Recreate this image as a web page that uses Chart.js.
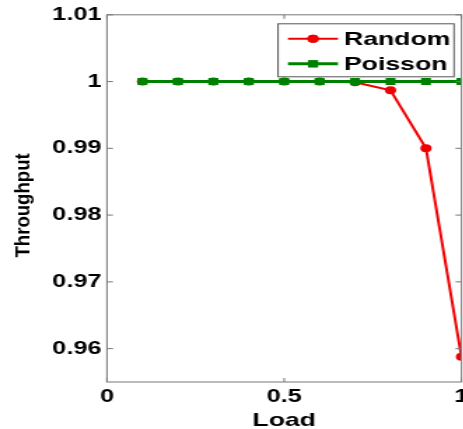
<!DOCTYPE html>
<html>
<head>
<meta charset="utf-8">
<title>Throughput vs Load</title>
<script src="https://cdn.jsdelivr.net/npm/chart.js@4.4.0/dist/chart.umd.min.js"></script>
<style>
  html, body { margin: 0; padding: 0; background: #fff; overflow: hidden; }
  #frame { width: 463px; height: 429px; overflow: hidden; }
  /* figure is drawn narrow, then widened like the exported original */
  #stretch { width: 346px; height: 429px; transform: scaleX(1.4); transform-origin: 0 0; }
</style>
</head>
<body>
<div id="frame"><div id="stretch"><canvas id="chart"></canvas></div></div>
<script>
// ---------------------------------------------
// Data
// ---------------------------------------------

const loads = [0.1, 0.2, 0.3, 0.4, 0.5, 0.6, 0.7, 0.8, 0.9, 1.0];
const randomThroughput = [1, 1, 1, 1, 1, 1, 0.9999, 0.9987, 0.990, 0.9588];
const poissonThroughput = [1, 1, 1, 1, 1, 1, 1, 1, 1, 1];

const xTicks = [0, 0.5, 1];
const yTicks = [0.96, 0.97, 0.98, 0.99, 1, 1.01];

const xTitle = "Load";
const yTitle = "Throughput";

// ---------------------------------------------
// Style helpers
// ---------------------------------------------

const FONT = "'Liberation Sans', Arial, Helvetica, sans-serif";
const AXIS_COLOR = "#777";

function points(ys) {
  return loads.map((x, i) => ({ x, y: ys[i] }));
}

function pinTicks(values) {
  return scale => {
    scale.ticks = values.map(value => ({ value }));
  };
}

// box around the plot with inward tick marks
const axesBox = {
  id: "axesBox",
  afterDatasetsDraw(chart) {
    const { ctx, chartArea: a, scales } = chart;
    ctx.save();
    ctx.strokeStyle = AXIS_COLOR;
    ctx.lineWidth = 1;
    ctx.strokeRect(a.left, a.top, a.right - a.left, a.bottom - a.top);

    ctx.beginPath();
    yTicks.forEach(v => {
      const y = scales.y.getPixelForValue(v);
      ctx.moveTo(a.left, y); ctx.lineTo(a.left + 4.3, y);
      ctx.moveTo(a.right, y); ctx.lineTo(a.right - 4.3, y);
    });
    xTicks.forEach(v => {
      const x = scales.x.getPixelForValue(v);
      ctx.moveTo(x, a.bottom); ctx.lineTo(x, a.bottom - 4);
      ctx.moveTo(x, a.top); ctx.lineTo(x, a.top + 4);
    });
    ctx.stroke();
    ctx.restore();
  }
};

// vertical axis title; squeezed across so the widened page keeps it slim
const sideTitle = {
  id: "sideTitle",
  afterDraw(chart) {
    const { ctx, chartArea: a } = chart;
    ctx.save();
    ctx.translate(20.9, (a.top + a.bottom) / 2 + 7);
    ctx.rotate(-Math.PI / 2);
    ctx.scale(1, 0.77);
    ctx.fillStyle = "#000";
    ctx.font = `bold 18.6px ${FONT}`;
    ctx.textAlign = "center";
    ctx.textBaseline = "alphabetic";
    ctx.fillText(yTitle, 0, 0);
    ctx.restore();
  }
};

function drawMarker(ctx, ds, x, y) {
  Chart.helpers.drawPoint(ctx, {
    pointStyle: ds.pointStyle,
    radius: ds.pointRadius,
    rotation: 0,
    borderWidth: 0
  }, x, y);
  ctx.fill();
}

// legend in the upper right corner: line + marker sample, then label
const boxLegend = {
  id: "boxLegend",
  afterDraw(chart) {
    const { ctx, chartArea: a } = chart;
    const w = 125.7, h = 53;
    const left = a.right - 5.3 - w;
    const top = a.top + 9;

    ctx.save();
    ctx.fillStyle = "#fff";
    ctx.fillRect(left, top, w, h);
    ctx.strokeStyle = "#555";
    ctx.lineWidth = 1;
    ctx.strokeRect(left, top, w, h);

    chart.data.datasets.forEach((ds, i) => {
      const y = top + 15 + i * 25;
      ctx.strokeStyle = ds.borderColor;
      ctx.lineWidth = ds.borderWidth;
      ctx.beginPath();
      ctx.moveTo(left + 7.1, y);
      ctx.lineTo(left + 42.8, y);
      ctx.stroke();

      ctx.fillStyle = ds.backgroundColor;
      drawMarker(ctx, ds, left + 25, y);

      ctx.fillStyle = "#000";
      ctx.font = `bold 19px ${FONT}`;
      ctx.textBaseline = "middle";
      ctx.textAlign = "left";
      ctx.fillText(ds.label, left + 47.1, y + 1);
    });
    ctx.restore();
  }
};

// ---------------------------------------------
// Build chart
// ---------------------------------------------

new Chart(document.getElementById("chart"), {
  type: "line",
  data: {
    datasets: [
      {
        label: "Random",
        data: points(randomThroughput),
        borderColor: "#f00000",
        backgroundColor: "#f00000",
        borderWidth: 2,
        pointStyle: "circle",
        pointRadius: 4,
        pointBorderWidth: 0,
        tension: 0,
        order: 1
      },
      {
        label: "Poisson",
        data: points(poissonThroughput),
        borderColor: "#008000",
        backgroundColor: "#008000",
        borderWidth: 3,
        pointStyle: "rect",
        pointRadius: 5,
        pointBorderWidth: 0,
        tension: 0,
        order: 0
      }
    ]
  },
  options: {
    responsive: true,
    maintainAspectRatio: false,
    animation: false,
    events: [],
    layout: {
      padding: { top: 14, right: 16.4, bottom: 0, left: 0 }
    },
    plugins: {
      legend: { display: false },
      tooltip: { enabled: false }
    },
    scales: {
      x: {
        type: "linear",
        min: 0,
        max: 1,
        afterBuildTicks: pinTicks(xTicks),
        afterFit: s => { s.height = 47; },
        grid: { display: false, drawTicks: false },
        border: { display: false },
        ticks: {
          color: "#000",
          padding: 4,
          font: { family: FONT, size: 18, weight: "bold" },
          callback: v => String(v)
        },
        title: {
          display: true,
          text: xTitle,
          color: "#000",
          font: { family: FONT, size: 19, weight: "bold", lineHeight: 1 },
          padding: { top: 0, bottom: -1 }
        }
      },
      y: {
        type: "linear",
        min: 0.955,
        max: 1.01,
        afterBuildTicks: pinTicks(yTicks),
        afterFit: s => { s.width = 76.4; },
        grid: { display: false, drawTicks: false },
        border: { display: false },
        ticks: {
          color: "#000",
          padding: 4,
          font: { family: FONT, size: 18, weight: "bold" },
          callback: v => String(Number(v.toFixed(2)))
        }
      }
    }
  },
  plugins: [axesBox, boxLegend, sideTitle]
});
</script>
</body>
</html>
